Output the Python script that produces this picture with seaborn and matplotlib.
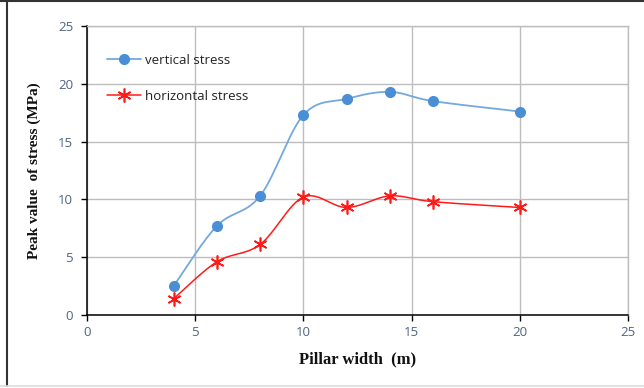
import numpy as np
import pandas as pd
import matplotlib
matplotlib.use("Agg")
import matplotlib.pyplot as plt
from matplotlib.lines import Line2D
import seaborn as sns

# Pillar widths (m) and peak stresses (MPa)
pillar_width = [4, 6, 8, 10, 12, 14, 16, 20]
vertical_stress = [2.5, 7.7, 10.3, 17.3, 18.7, 19.3, 18.5, 17.6]
horizontal_stress = [1.4, 4.6, 6.1, 10.2, 9.3, 10.3, 9.8, 9.3]
x_ticks = [0, 5, 10, 15, 20, 25]
y_ticks = [0, 5, 10, 15, 20, 25]


def smooth_curve(xs, ys, n=30):
    """Catmull-Rom style cubic Bezier through every point."""
    p = np.column_stack([xs, ys]).astype(float)
    ext = np.vstack([p[0], p, p[-1]])
    out = []
    t = np.linspace(0, 1, n)[:, None]
    for i in range(1, len(ext) - 2):
        p0, p1, p2, p3 = ext[i - 1], ext[i], ext[i + 1], ext[i + 2]
        c1 = p1 + (p2 - p0) / 6.0
        c2 = p2 - (p3 - p1) / 6.0
        seg = ((1 - t) ** 3) * p1 + 3 * ((1 - t) ** 2) * t * c1 \
            + 3 * (1 - t) * t ** 2 * c2 + t ** 3 * p2
        out.append(seg if i == 1 else seg[1:])
    c = np.vstack(out)
    return c[:, 0], c[:, 1]


sns.set_theme(style="white")
plt.rcParams["font.family"] = ["Open Sans", "DejaVu Sans"]

fig = plt.figure(figsize=(6.44, 3.88), dpi=100)
ax = fig.add_axes([87 / 644, 1 - 315 / 388, (628 - 87) / 644, (315 - 26) / 388])

blue_line = "#74a9de"
blue_mark = "#4a8fd6"
red = "#ff1a1a"

vx, vy = smooth_curve(pillar_width, vertical_stress)
hx, hy = smooth_curve(pillar_width, horizontal_stress)
sns.lineplot(x=vx, y=vy, ax=ax, color=blue_line, lw=1.3, sort=False, estimator=None)
sns.lineplot(x=hx, y=hy, ax=ax, color=red, lw=1.1, sort=False, estimator=None)

df_v = pd.DataFrame({"w": pillar_width, "s": vertical_stress})
df_h = pd.DataFrame({"w": pillar_width, "s": horizontal_stress})
ax.plot(df_v["w"], df_v["s"], ls="none", marker="o", ms=7, color=blue_mark, mec=blue_mark)
ax.plot(df_h["w"], df_h["s"], ls="none", marker=(6, 2, 0), ms=10, color=red, mew=1.2)

ax.set_xlim(0, 25)
ax.set_ylim(0, 25)
ax.set_xticks(x_ticks)
ax.set_yticks(y_ticks)
ax.grid(True, color="#bdbdbd", lw=1.0)
ax.set_axisbelow(True)
for side in ["top", "right"]:
    ax.spines[side].set_color("#bdbdbd")
    ax.spines[side].set_linewidth(1.0)
for side in ["left", "bottom"]:
    ax.spines[side].set_color("#000000")
    ax.spines[side].set_linewidth(1.1)
ax.tick_params(axis="both", which="major", direction="out", length=4, width=1,
               color="#000000", labelsize=9.5, labelcolor="#4f6384", pad=6)
ax.tick_params(axis="x", bottom=True, pad=4)
ax.tick_params(axis="y", left=True)

label_font = dict(family="Liberation Serif", weight="bold", color="#111111")
ax.set_xlabel("Pillar width  (m)", labelpad=9, size=12, **label_font)
ax.set_ylabel("Peak value  of stress (MPa)", labelpad=12, size=11, **label_font)

handles = [
    Line2D([], [], color=blue_line, lw=1.3, marker="o", ms=7, mfc=blue_mark, mec=blue_mark),
    Line2D([], [], color=red, lw=1.1, marker=(6, 2, 0), ms=10, mew=1.2),
]
leg = ax.legend(handles, ["vertical stress", "horizontal stress"], loc="upper left",
                bbox_to_anchor=(0.015, 0.945), frameon=False, fontsize=9.5,
                handlelength=2.6, handletextpad=0.3, labelspacing=1.75)
for t in leg.get_texts():
    t.set_color("#222222")

# outer frame lines
fig.add_artist(Line2D([0, 1], [0.9985, 0.9985], transform=fig.transFigure, color="#333333", lw=1.5))
fig.add_artist(Line2D([7 / 644, 7 / 644], [0.005, 1], transform=fig.transFigure, color="#333333", lw=1.5))
fig.add_artist(Line2D([0, 1], [2.5 / 388, 2.5 / 388], transform=fig.transFigure, color="#dddddd", lw=1.2))

fig.savefig("out.png", dpi=100, facecolor="white")
